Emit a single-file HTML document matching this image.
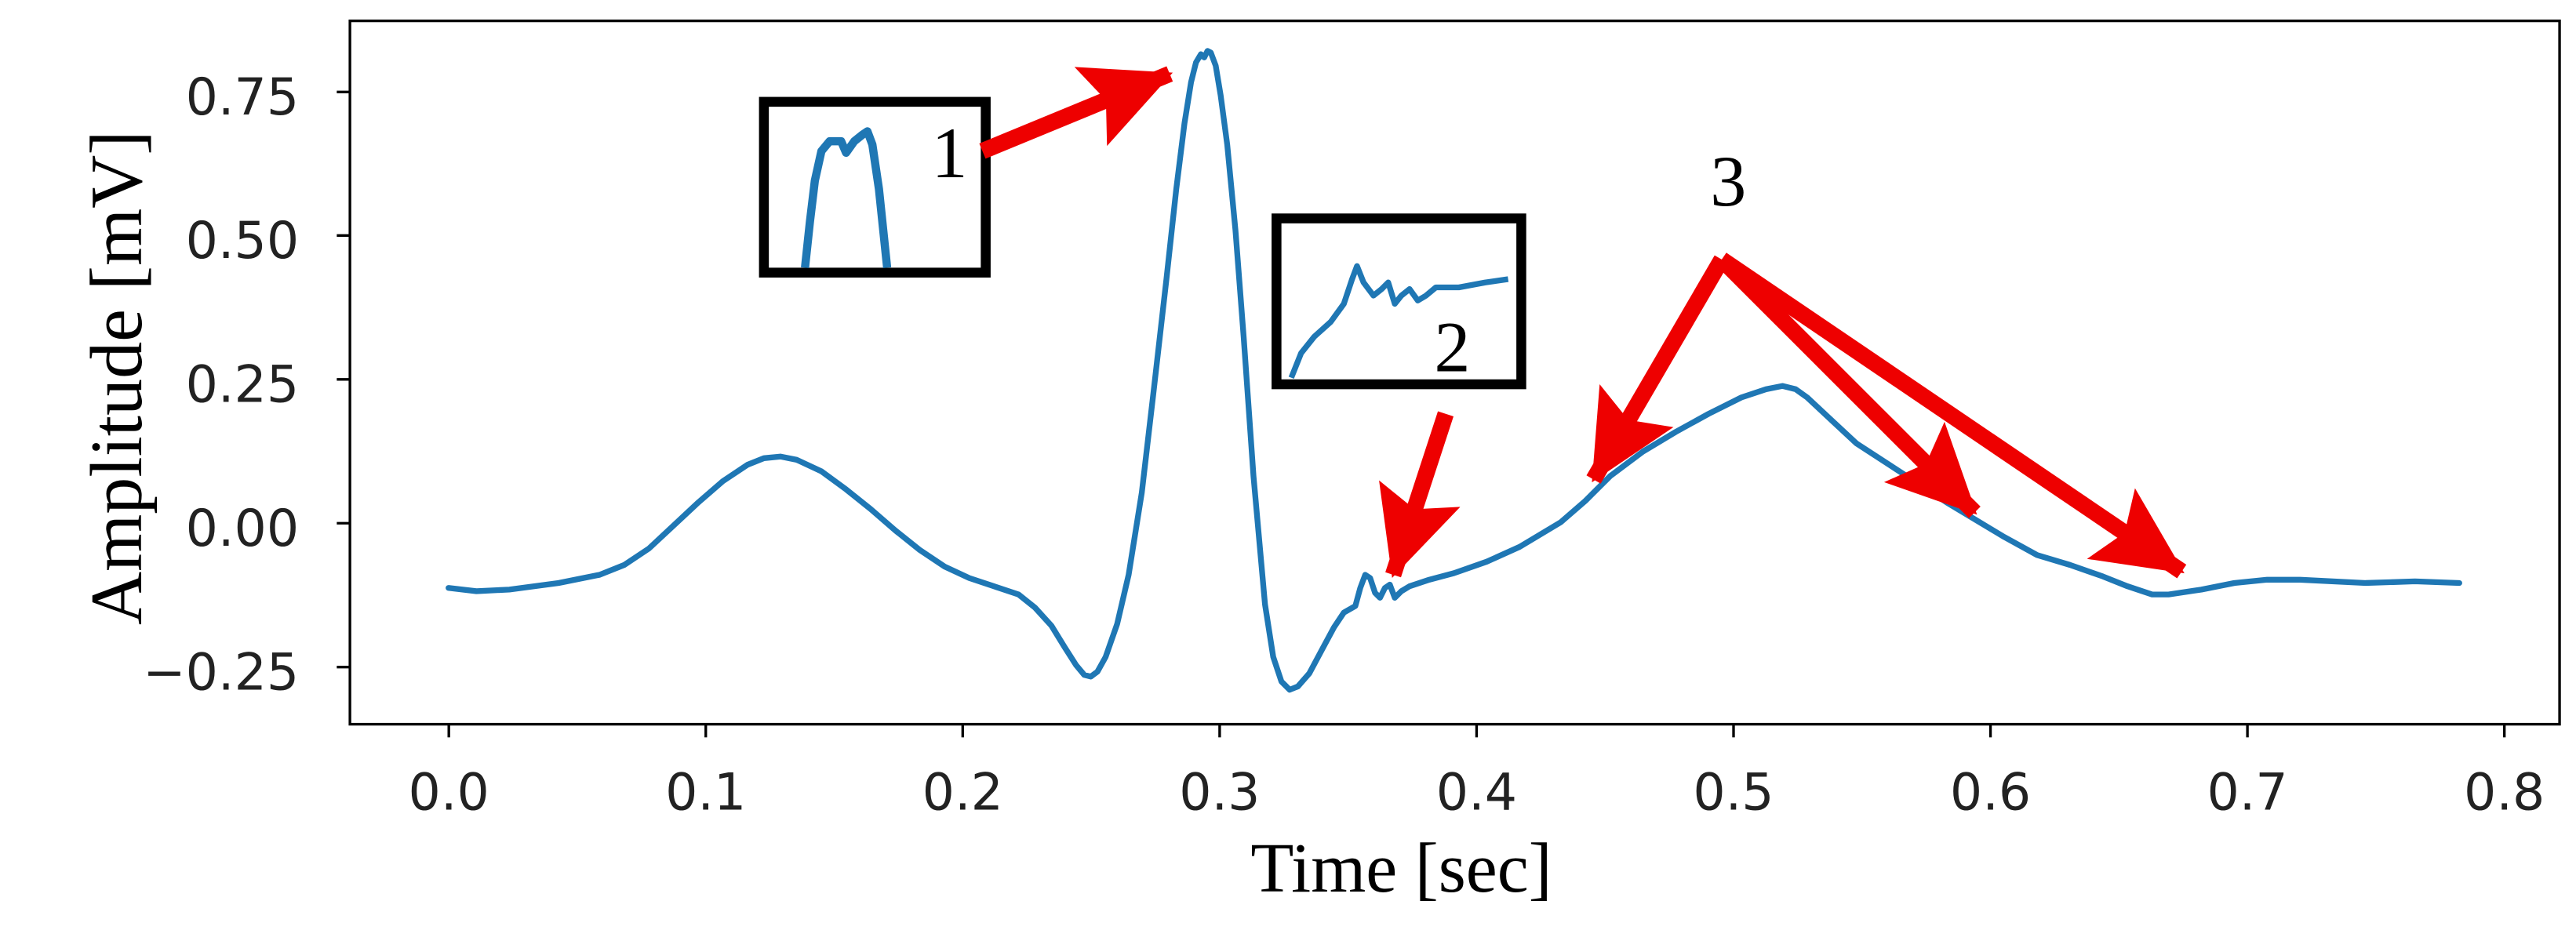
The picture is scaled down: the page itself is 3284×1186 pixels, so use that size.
<!DOCTYPE html>
<html><head><meta charset="utf-8"><style>html,body{margin:0;padding:0;background:#fff}svg{display:block}</style></head>
<body>
<svg width="3284" height="1186" viewBox="0 0 1568 566.3" preserveAspectRatio="none" xmlns="http://www.w3.org/2000/svg">
<defs>
<marker id="ah" markerUnits="userSpaceOnUse" markerWidth="56" markerHeight="56" viewBox="0 0 56 56" refX="52" refY="28" orient="auto">
<path d="M0,2 L54,28 L0,54 L10,28 Z" fill="#ee0000"/>
</marker>
</defs>
<rect x="213" y="12.7" width="1345" height="428.3" fill="none" stroke="#000" stroke-width="1.6"/>
<g stroke="#000" stroke-width="1.6">
<line x1="205" y1="56" x2="213" y2="56"/><line x1="205" y1="143.4" x2="213" y2="143.4"/><line x1="205" y1="231" x2="213" y2="231"/><line x1="205" y1="318.6" x2="213" y2="318.6"/><line x1="205" y1="406.2" x2="213" y2="406.2"/>
<line x1="273.2" y1="441" x2="273.2" y2="449"/><line x1="429.6" y1="441" x2="429.6" y2="449"/><line x1="586" y1="441" x2="586" y2="449"/><line x1="742.4" y1="441" x2="742.4" y2="449"/><line x1="898.8" y1="441" x2="898.8" y2="449"/><line x1="1055.2" y1="441" x2="1055.2" y2="449"/><line x1="1211.6" y1="441" x2="1211.6" y2="449"/><line x1="1368" y1="441" x2="1368" y2="449"/><line x1="1524.4" y1="441" x2="1524.4" y2="449"/>
</g>
<g font-family="DejaVu Sans, sans-serif" font-size="31" fill="#222" text-anchor="end">
<text x="182" y="69.7">0.75</text><text x="182" y="157">0.50</text><text x="182" y="244.7">0.25</text><text x="182" y="332.3">0.00</text><text x="182" y="420">−0.25</text>
</g>
<g font-family="DejaVu Sans, sans-serif" font-size="31" fill="#222" text-anchor="middle">
<text x="273.2" y="493">0.0</text><text x="429.6" y="493">0.1</text><text x="586" y="493">0.2</text><text x="742.4" y="493">0.3</text><text x="898.8" y="493">0.4</text><text x="1055.2" y="493">0.5</text><text x="1211.6" y="493">0.6</text><text x="1368" y="493">0.7</text><text x="1524.4" y="493">0.8</text>
</g>
<text x="853" y="543" font-family="Liberation Serif, serif" font-size="43" text-anchor="middle">Time [sec]</text>
<text transform="translate(86,230) rotate(-90)" font-family="Liberation Serif, serif" font-size="45" text-anchor="middle">Amplitude [mV]</text>
<polyline fill="none" stroke="#1f77b4" stroke-width="3.5" stroke-linejoin="round" stroke-linecap="round" points="273,358 290,360 310,359 340,355 365,350 380,344 395,334 410,320 425,306 440,293 455,283 465,279 475,278 485,280 500,287 515,298 530,310 545,323 560,335 575,345 590,352 605,357 620,362 630,370 640,381 648,394 655,405 660,411 664,412 668,409 673,400 680,380 687,350 695,300 702,240 710,170 716,115 721,75 725,50 728,38 731,33 733,35 735,31 737,32 740,40 743,58 747,88 752,140 757,205 763,290 770,368 775,400 780,415 785,420 790,418 797,410 805,395 812,382 818,373 825,369 828,358 831,350 834,352 837,361 840,364 843,358 846,356 849,364 853,360 858,357 870,353 885,349 905,342 925,333 950,318 965,305 980,290 1000,275 1020,263 1040,252 1060,242 1075,237 1085,235 1093,237 1100,242 1115,256 1130,270 1150,283 1170,296 1185,306 1200,315 1220,327 1240,338 1260,344 1280,351 1295,357 1310,362 1320,362 1340,359 1360,355 1380,353 1400,353 1440,355 1470,354 1497,355"/>
<rect x="465" y="62" width="135" height="104" fill="#fff" stroke="#000" stroke-width="6"/>
<polyline fill="none" stroke="#1f77b4" stroke-width="5" stroke-linejoin="round" points="490,163 493,135 496,110 500,92 505,86 512,86 515,93 520,86 525,82 528,80 531,88 535,115 540,163"/>
<rect x="777" y="133" width="149" height="101" fill="#fff" stroke="#000" stroke-width="6"/>
<polyline fill="none" stroke="#1f77b4" stroke-width="3.5" stroke-linejoin="round" points="786,230 792,215 800,205 810,196 818,185 823,170 826,162 830,172 836,180 841,176 845,172 849,185 853,180 858,176 863,183 868,180 874,175 888,175 904,172 918,170"/>
<g font-family="Liberation Serif, serif" font-size="44" fill="#000" text-anchor="middle">
<text x="578" y="108">1</text><text x="884" y="226">2</text><text x="1052" y="125">3</text>
</g>
<g stroke="#ee0000" stroke-width="10" fill="none" marker-end="url(#ah)">
<line x1="598" y1="92" x2="712" y2="45"/>
<line x1="880" y1="252" x2="848" y2="350"/>
<line x1="1048" y1="158" x2="970" y2="292"/>
<line x1="1048" y1="158" x2="1202" y2="312"/>
<line x1="1048" y1="158" x2="1328" y2="348"/>
</g>
</svg>
</body></html>
